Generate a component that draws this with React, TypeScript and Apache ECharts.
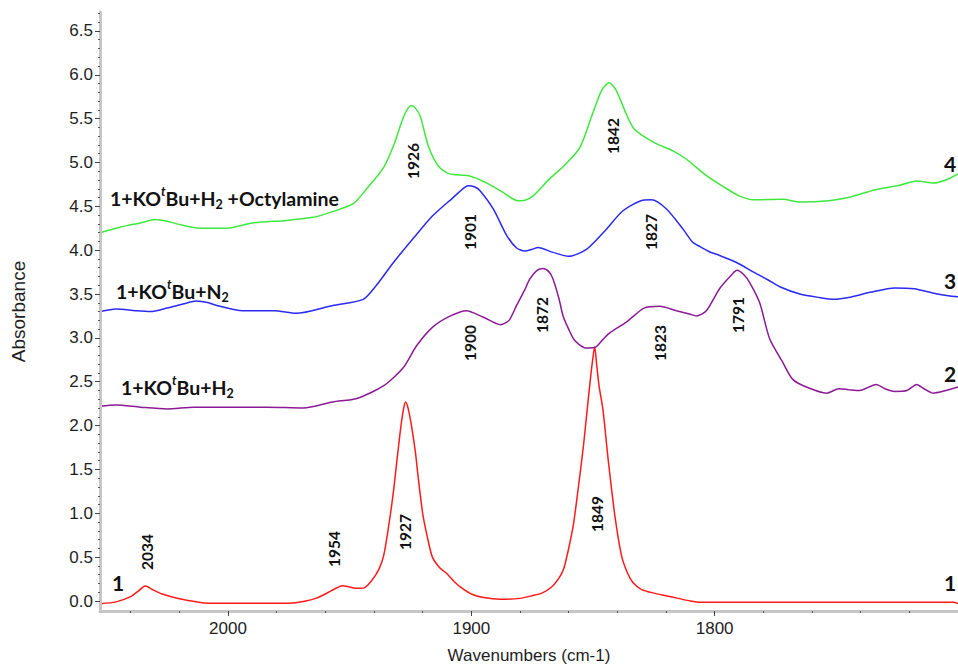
import React, { useEffect, useRef } from "react";
import * as echarts from "echarts";

// Spectrum 1 (red)
const curve1: number[][] = [
  [2052.6, -0.03], [2046, -0.01], [2040, 0.05], [2037, 0.11], [2034, 0.17], [2031, 0.13], [2027, 0.08],
  [2020, 0.025], [2012, -0.015], [2008, -0.025], [1990, -0.025], [1975, -0.025], [1968, 0.0], [1964, 0.03],
  [1960, 0.08], [1956, 0.14], [1953, 0.175], [1950, 0.16], [1947, 0.145], [1944, 0.15], [1941, 0.23],
  [1938, 0.36], [1936, 0.52], [1934, 0.85], [1932, 1.25], [1930.5, 1.62], [1929, 1.98], [1927.8, 2.2],
  [1927, 2.27], [1926, 2.2], [1924.6, 2.0], [1923, 1.7], [1922, 1.45], [1920, 1.0], [1918, 0.72],
  [1916, 0.5], [1913, 0.38], [1910, 0.31], [1907, 0.22], [1904, 0.15], [1900, 0.08], [1895, 0.04],
  [1888, 0.02], [1880, 0.03], [1875, 0.06], [1871, 0.09], [1867, 0.16], [1864, 0.26], [1862, 0.37],
  [1860, 0.6], [1858, 0.88], [1856, 1.3], [1854, 1.75], [1852.5, 2.15], [1851, 2.55], [1850, 2.78],
  [1849.3, 2.9], [1848.5, 2.7], [1847.5, 2.45], [1846, 2.2], [1845, 1.95], [1843.8, 1.62], [1841, 0.97],
  [1838.3, 0.52], [1836, 0.33], [1833.6, 0.21], [1830, 0.13], [1825, 0.09], [1820, 0.06], [1815, 0.03],
  [1810, 0.0], [1806, -0.015], [1750, -0.015], [1702, -0.015], [1700, -0.03],
];

// Spectrum 2: 1+KOtBu+H2 (purple)
const curve2: number[][] = [
  [2052.6, 2.22], [2046, 2.235], [2036, 2.21], [2025, 2.19], [2014, 2.21], [2000, 2.21], [1984, 2.21],
  [1969, 2.2], [1957, 2.27], [1947, 2.31], [1936, 2.455], [1928, 2.66], [1922.5, 2.91], [1916, 3.12],
  [1909, 3.245], [1902, 3.31], [1895, 3.235], [1888, 3.15], [1884.5, 3.2], [1881.4, 3.37], [1878, 3.55],
  [1876, 3.67], [1873, 3.77], [1870.5, 3.79], [1868, 3.75], [1866.4, 3.67], [1864, 3.45], [1862.3, 3.25],
  [1860, 3.1], [1857.5, 2.97], [1853, 2.885], [1849.3, 2.89], [1846, 2.98], [1843, 3.06], [1836.3, 3.18],
  [1829, 3.34], [1822.6, 3.36], [1815.7, 3.31], [1810, 3.27], [1807.5, 3.25], [1803.4, 3.31], [1798, 3.56],
  [1793, 3.72], [1790.8, 3.77], [1788, 3.72], [1785.6, 3.63], [1781.5, 3.4], [1777.4, 2.99], [1772, 2.72],
  [1768, 2.53], [1762.3, 2.44], [1754, 2.37], [1749, 2.42], [1745, 2.41], [1740.5, 2.4], [1733.6, 2.47],
  [1730, 2.42], [1726, 2.39], [1721, 2.4], [1717, 2.47], [1714, 2.42], [1710.3, 2.37], [1705, 2.4],
  [1700, 2.44],
];

// Spectrum 3: 1+KOtBu+N2 (blue)
const curve3: number[][] = [
  [2052.6, 3.3], [2046, 3.33], [2038, 3.31], [2032, 3.3], [2025, 3.34], [2018, 3.39], [2013, 3.42],
  [2008, 3.4], [2004.6, 3.37], [1994, 3.31], [1981, 3.31], [1972, 3.28], [1957, 3.37], [1944.4, 3.44],
  [1939, 3.6], [1932, 3.86], [1924, 4.13], [1916, 4.39], [1907.5, 4.6], [1903, 4.71], [1901.3, 4.735],
  [1898.5, 4.72], [1896.5, 4.68], [1891, 4.47], [1885.5, 4.17], [1881.4, 4.025], [1878, 3.99], [1875, 4.01],
  [1872.6, 4.03], [1866.4, 3.975], [1860, 3.93], [1852.7, 4.01], [1844.5, 4.24], [1837.7, 4.45],
  [1829.5, 4.57], [1826, 4.575], [1819.8, 4.47], [1813, 4.24], [1809, 4.09], [1806, 4.04], [1802, 3.98],
  [1798, 3.94], [1791, 3.86], [1784, 3.75], [1778, 3.66], [1773, 3.58], [1765, 3.5], [1757, 3.46],
  [1751, 3.44], [1745, 3.46], [1736, 3.52], [1726, 3.57], [1718, 3.56], [1710, 3.51], [1704, 3.48],
  [1700, 3.47],
];

// Spectrum 4: 1+KOtBu+H2 +Octylamine (green)
const curve4: number[][] = [
  [2052.6, 4.2], [2046, 4.25], [2041.6, 4.28], [2036, 4.31], [2030, 4.35], [2025, 4.33], [2021, 4.3],
  [2011.5, 4.25], [2000.5, 4.25], [1990, 4.31], [1976, 4.34], [1965, 4.375], [1957, 4.44], [1948.5, 4.53],
  [1943, 4.7], [1936, 4.945], [1932, 5.19], [1928, 5.51], [1926, 5.62], [1924.6, 5.65], [1923, 5.62],
  [1921, 5.53], [1917.7, 5.19], [1913.6, 4.96], [1909, 4.87], [1901, 4.85], [1894, 4.77], [1887, 4.66],
  [1881, 4.565], [1878, 4.57], [1874.6, 4.62], [1868, 4.81], [1862, 4.96], [1855.4, 5.17], [1850, 5.57],
  [1846.5, 5.82], [1843.4, 5.91], [1840.4, 5.82], [1836.3, 5.55], [1833, 5.38], [1825, 5.23], [1817, 5.13],
  [1811.7, 5.04], [1803.4, 4.85], [1795, 4.7], [1790, 4.62], [1784, 4.575], [1772, 4.58], [1765, 4.55],
  [1753, 4.565], [1745, 4.6], [1734, 4.69], [1724, 4.74], [1717, 4.79], [1710, 4.765], [1705, 4.8],
  [1700, 4.87],
];

const xMajorTicks = [2000, 1900, 1800];
const yMajorTicks = [0, 0.5, 1, 1.5, 2, 2.5, 3, 3.5, 4, 4.5, 5, 5.5, 6, 6.5];

const xMinorTicks: number[] = [];
for (let v = 2040; v >= 1700; v -= 20) xMinorTicks.push(v);
const yMinorTicks: number[] = [];
for (let i = 0; i <= 67; i++) yMinorTicks.push(i / 10);

const X_MIN = 1700;
const X_MAX = 2052.6;
const Y_MIN = -0.114;
const Y_MAX = 6.716;

const AXIS_FONT = "'Liberation Sans', Arial, sans-serif";
const NOTE_FONT = "Lato, 'Open Sans', sans-serif";

const peakLabels: { text: string; x: number; y: number }[] = [
  { text: "1926", x: 413, y: 161 },
  { text: "1842", x: 613, y: 136 },
  { text: "1901", x: 470, y: 232 },
  { text: "1827", x: 651, y: 232 },
  { text: "1900", x: 470, y: 343 },
  { text: "1872", x: 542, y: 315 },
  { text: "1823", x: 660, y: 343 },
  { text: "1791", x: 738, y: 315 },
  { text: "2034", x: 147, y: 552 },
  { text: "1954", x: 334, y: 549 },
  { text: "1927", x: 405, y: 532 },
  { text: "1849", x: 597, y: 514 },
];

const numberLabels: { text: string; x: number; y: number }[] = [
  { text: "1", x: 118, y: 582 },
  { text: "1", x: 950, y: 582 },
  { text: "2", x: 950, y: 373 },
  { text: "3", x: 950, y: 280 },
  { text: "4", x: 950, y: 163 },
];

const seriesLabels: { text: string; x: number; y: number }[] = [
  { text: "1+KO{sup|t}Bu+H{sub|2} +Octylamine", x: 110, y: 198 },
  { text: "1+KO{sup|t}Bu+N{sub|2}", x: 116, y: 291 },
  { text: "1+KO{sup|t}Bu+H{sub|2}", x: 121, y: 387 },
];

function makeLine(name: string, data: number[][], color: string) {
  return {
    name,
    type: "line",
    xAxisIndex: 0,
    yAxisIndex: 0,
    data,
    showSymbol: false,
    symbol: "none",
    smooth: 0.25,
    clip: true,
    lineStyle: { color, width: 1.5 },
    itemStyle: { color },
    z: 3,
  };
}

export default function App() {
  const ref = useRef<HTMLDivElement | null>(null);

  useEffect(() => {
    if (!ref.current) return;
    const chart = echarts.init(ref.current, null, { renderer: "svg" });

    const graphic: any[] = [];
    peakLabels.forEach((p) => {
      graphic.push({
        type: "text",
        x: p.x,
        y: p.y,
        rotation: Math.PI / 2,
        style: {
          text: p.text,
          fontFamily: NOTE_FONT,
          fontSize: 15.5,
          fontWeight: "bold",
          fill: "#111",
          align: "center",
          verticalAlign: "middle",
        },
        z: 10,
      });
    });
    numberLabels.forEach((p) => {
      graphic.push({
        type: "text",
        x: p.x,
        y: p.y,
        style: {
          text: p.text,
          fontFamily: NOTE_FONT,
          fontSize: 21,
          fontWeight: "bold",
          fill: "#111",
          align: "center",
          verticalAlign: "middle",
        },
        z: 10,
      });
    });
    seriesLabels.forEach((p) => {
      graphic.push({
        type: "text",
        x: p.x,
        y: p.y,
        style: {
          text: p.text,
          fontFamily: NOTE_FONT,
          fontSize: 19.5,
          fontWeight: "bold",
          lineHeight: 26,
          fill: "#111",
          align: "left",
          verticalAlign: "middle",
          rich: {
            sup: {
              fontFamily: NOTE_FONT,
              fontSize: 12.5,
              fontWeight: "bold",
              lineHeight: 12,
              fontStyle: "italic",
              verticalAlign: "top",
              fill: "#111",
            },
            sub: {
              fontFamily: NOTE_FONT,
              fontSize: 12.5,
              fontWeight: "bold",
              lineHeight: 12,
              verticalAlign: "bottom",
              fill: "#111",
            },
          },
        },
        z: 10,
      });
    });

    const labelStyle = { color: "#1e1e1e", fontSize: 17, fontFamily: AXIS_FONT };

    chart.setOption({
      animation: false,
      backgroundColor: "#ffffff",
      grid: { left: 100, right: 0, top: 12, bottom: 57, containLabel: false },
      xAxis: [
        {
          type: "value",
          min: X_MIN,
          max: X_MAX,
          inverse: true,
          position: "bottom",
          axisLine: { show: true, onZero: false, lineStyle: { color: "#c6c6c6", width: 3 } },
          axisTick: { show: true, customValues: xMinorTicks, length: 2, lineStyle: { color: "#555", width: 1 } },
          axisLabel: { show: false },
          splitLine: { show: false },
          z: 5,
        },
        {
          type: "value",
          min: X_MIN,
          max: X_MAX,
          inverse: true,
          position: "bottom",
          name: "Wavenumbers (cm-1)",
          nameLocation: "middle",
          nameGap: 36,
          nameTextStyle: { ...labelStyle },
          axisLine: { show: false, onZero: false },
          axisTick: { show: true, customValues: xMajorTicks, length: 5, lineStyle: { color: "#444", width: 1 } },
          axisLabel: {
            show: true,
            customValues: xMajorTicks,
            margin: 9,
            formatter: (v: number) => String(Math.round(v)),
            ...labelStyle,
          },
          splitLine: { show: false },
          z: 6,
        },
      ],
      yAxis: [
        {
          type: "value",
          min: Y_MIN,
          max: Y_MAX,
          position: "left",
          axisLine: { show: true, onZero: false, lineStyle: { color: "#c6c6c6", width: 3 } },
          axisTick: { show: true, customValues: yMinorTicks, length: 2, lineStyle: { color: "#555", width: 1 } },
          axisLabel: { show: false },
          splitLine: { show: false },
          z: 5,
        },
        {
          type: "value",
          min: Y_MIN,
          max: Y_MAX,
          position: "left",
          name: "Absorbance",
          nameLocation: "middle",
          nameGap: 72,
          nameTextStyle: { ...labelStyle, fontSize: 19 },
          axisLine: { show: false, onZero: false },
          axisTick: { show: true, customValues: yMajorTicks, length: 5, lineStyle: { color: "#444", width: 1 } },
          axisLabel: {
            show: true,
            customValues: yMajorTicks,
            margin: 7,
            formatter: (v: number) => v.toFixed(1),
            ...labelStyle,
          },
          splitLine: { show: false },
          z: 6,
        },
      ],
      series: [
        makeLine("1", curve1, "#ff1a1a"),
        makeLine("1+KOtBu+H2", curve2, "#8c1a96"),
        makeLine("1+KOtBu+N2", curve3, "#2a2af0"),
        makeLine("1+KOtBu+H2 +Octylamine", curve4, "#3ee83e"),
      ],
      graphic,
    });

    return () => {
      chart.dispose();
    };
  }, []);

  return (
    <div
      ref={ref}
      style={{ position: "absolute", left: 0, top: 0, width: 958, height: 669, background: "#fff" }}
    />
  );
}
